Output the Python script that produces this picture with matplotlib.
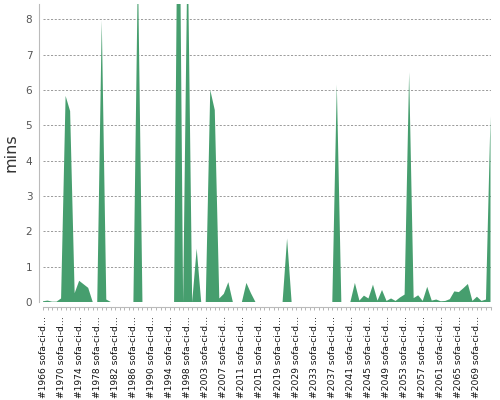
import matplotlib
matplotlib.use("Agg")
import matplotlib.pyplot as plt

# build run times (minutes), one value per build
mins = [0.02, 0.04, 0.01, 0.01, 0.1, 5.83, 5.4, 0.25, 0.6, 0.5,
        0.4, 0.0, 0.0, 7.97, 0.07, 0.0, 0.0, 0.0, 0.0, 0.0,
        0.0, 9.5, 0.0, 0.0, 0.0, 0.0, 0.0, 0.0, 0.0, 0.0,
        15.0, 0.0, 10.3, 0.0, 1.51, 0.0, 0.0, 6.0, 5.43, 0.1,
        0.23, 0.56, 0.0, 0.0, 0.0, 0.54, 0.25, 0.0, 0.0, 0.0,
        0.0, 0.0, 0.0, 0.0, 1.8, 0.0, 0.0, 0.0, 0.0, 0.0,
        0.0, 0.0, 0.0, 0.0, 0.0, 6.15, 0.0, 0.0, 0.0, 0.54,
        0.04, 0.18, 0.1, 0.49, 0.04, 0.34, 0.03, 0.1, 0.03, 0.13,
        0.21, 6.5, 0.11, 0.19, 0.03, 0.43, 0.04, 0.07, 0.02, 0.03,
        0.08, 0.3, 0.28, 0.39, 0.51, 0.03, 0.15, 0.03, 0.07, 5.25]

# only every 4th build is labelled on the axis
labelled_builds = [1966, 1970, 1974, 1978, 1982, 1986, 1990, 1994, 1998,
                   2003, 2007, 2011, 2015, 2019, 2029, 2033, 2037, 2041,
                   2045, 2049, 2053, 2057, 2061, 2065, 2069]
label_step = 4

green = '#469e6e'

fig = plt.figure(figsize=(5, 4), dpi=100)
ax = fig.add_axes([43 / 500, 98 / 400, 447.5 / 500, 298 / 400])

x = list(range(len(mins)))
ax.fill_between(x, 0, mins, color=green, lw=0)

ax.set_xlim(0, len(mins) - 1)
ax.set_ylim(0, 8.43)

# y axis
ax.set_yticks(range(0, 9))
ax.tick_params(axis='y', length=0, pad=5, labelsize=7.5, labelcolor='#555555')
ax.set_ylabel('mins', fontsize=11.5, color='#333333', labelpad=5)
ax.yaxis.grid(True, color='#8a8a8a', lw=0.6, dashes=(2.5, 2))
ax.set_axisbelow(True)

# x axis: tick at every build, label every 4th
labels = [''] * len(x)
for k, b in enumerate(labelled_builds):
    labels[k * label_step] = '#%d sofa-ci-d\u2026' % b
ax.set_xticks(x)
ax.set_xticklabels(labels)
ax.tick_params(axis='x', length=2.5, width=0.6, color='#aaaaaa', pad=4,
               labelsize=6.6, labelcolor='#111111', labelrotation=90)

for side in ['top', 'right']:
    ax.spines[side].set_visible(False)
ax.spines['left'].set_position(('outward', 2.7))
ax.spines['bottom'].set_position(('outward', 3.6))
ax.spines['left'].set_color('#bbbbbb')
ax.spines['bottom'].set_color('#bbbbbb')

fig.savefig('out.png', dpi=100)
